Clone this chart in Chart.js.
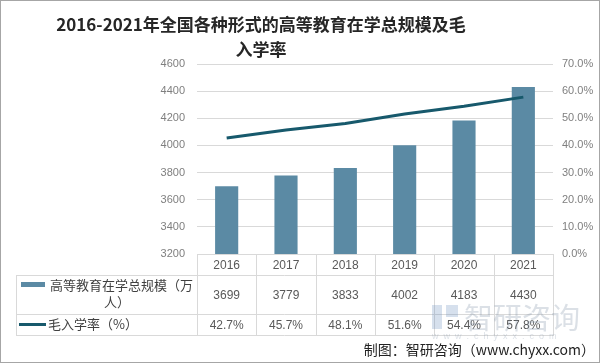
<!DOCTYPE html>
<html><head><meta charset="utf-8">
<script src="https://cdn.jsdelivr.net/npm/chart.js@4/dist/chart.umd.min.js"></script>
<style>html,body{margin:0;padding:0;background:#fff}#wrap{width:600px;height:363px;position:relative}</style>
</head><body><div id="wrap"><canvas id="c" width="600" height="363"></canvas></div>
<script>
const categories = ['2016','2017','2018','2019','2020','2021'];
const enrollment = [3699, 3779, 3833, 4002, 4183, 4430];
const grossRate = [42.7, 45.7, 48.1, 51.6, 54.4, 57.8];
const titleLines = ['2016-2021年全国各种形式的高等教育在学总规模及毛', '入学率'];
const seriesNames = ['高等教育在学总规模（万', '人）', '毛入学率（%）'];
const footer = '制图：智研咨询（www.chyxx.com）';

const BAR = '#5b8aa4', LINE = '#17596c', GRID = '#d9d9d9', TXT = '#595959';
const FONT = '"Liberation Sans", "Noto Sans CJK SC", sans-serif';
const CJK = '"Noto Sans CJK SC", sans-serif';

const tablePlugin = {
  id: 'tbl',
  afterDraw(chart) {
    const ctx = chart.ctx, ca = chart.chartArea, xs = chart.scales.x;
    const step = (ca.right - ca.left) / categories.length;
    const r0 = ca.bottom, r1 = 275, r2 = 314, r3 = 335, L = 16;
    ctx.save();
    ctx.strokeStyle = GRID; ctx.lineWidth = 1;
    const hl = (x1, x2, y) => { ctx.beginPath(); ctx.moveTo(x1, y + 0.5); ctx.lineTo(x2, y + 0.5); ctx.stroke(); };
    const vl = (x, y1, y2) => { ctx.beginPath(); ctx.moveTo(Math.round(x) + 0.5, y1); ctx.lineTo(Math.round(x) + 0.5, y2); ctx.stroke(); };
    hl(ca.left, ca.right, r0);
    hl(L, ca.right, r1); hl(L, ca.right, r2); hl(L, ca.right, r3);
    vl(L, r1, r3 + 1);
    for (let i = 0; i <= categories.length; i++) vl(ca.left + i * step, r0, r3 + 1);
    ctx.fillStyle = TXT; ctx.textAlign = 'center'; ctx.textBaseline = 'middle';
    ctx.font = '12px ' + FONT;
    categories.forEach((c, i) => {
      const x = xs.getPixelForValue(i);
      ctx.fillText(c, x, (r0 + r1) / 2 + 1);
      ctx.fillText(String(enrollment[i]), x, (r1 + r2) / 2 + 1);
      ctx.fillText(grossRate[i].toFixed(1) + '%', x, (r2 + r3) / 2 + 1);
    });
    // legend keys
    ctx.fillStyle = BAR; ctx.fillRect(21, 282, 24, 5);
    ctx.strokeStyle = LINE; ctx.lineWidth = 3;
    ctx.beginPath(); ctx.moveTo(19, 324.5); ctx.lineTo(46, 324.5); ctx.stroke();
    ctx.fillStyle = '#404040'; ctx.font = '13px ' + CJK; ctx.textAlign = 'left';
    ctx.fillText(seriesNames[0], 50, 285);
    ctx.textAlign = 'center'; ctx.fillText(seriesNames[1], 117, 302);
    ctx.textAlign = 'left'; ctx.fillText(seriesNames[2], 48, 324);
    // watermark
    ctx.globalAlpha = 0.28; ctx.fillStyle = '#7f8fa6';
    ctx.font = '29px ' + CJK; ctx.fillText('智研咨询', 464, 318);
    ctx.font = '9px ' + FONT; ctx.fillText('w  w  w  .  c  h  y  x  x  .  c  o  m', 432, 337);
    ctx.fillStyle = '#6d8fc0'; ctx.fillRect(432, 305, 10, 24); ctx.fillRect(446, 305, 12, 12);
    ctx.globalAlpha = 1;
    // footer
    ctx.fillStyle = '#222'; ctx.font = '14px ' + CJK; ctx.textAlign = 'right';
    ctx.fillText(footer, 595, 350);
    // title
    ctx.fillStyle = '#262626'; ctx.font = 'bold 17px ' + CJK; ctx.textAlign = 'center';
    ctx.fillText(titleLines[0], 261, 25);
    ctx.fillText(titleLines[1], 261, 50);
    // border
    ctx.strokeStyle = '#a6a6a6'; ctx.lineWidth = 1; ctx.strokeRect(0.5, 0.5, 599, 362);
    ctx.restore();
  }
};

new Chart(document.getElementById('c'), {
  data: {
    labels: categories,
    datasets: [
      { type: 'line', label: seriesNames[2], data: grossRate, yAxisID: 'y1', borderColor: LINE, borderWidth: 3, pointRadius: 0, tension: 0, order: 0 },
      { type: 'bar', label: seriesNames[0] + seriesNames[1], data: enrollment, yAxisID: 'y', backgroundColor: BAR, categoryPercentage: 1, barPercentage: 0.39, order: 1 }
    ]
  },
  options: {
    responsive: false, animation: false,
    layout: { padding: { left: 0, right: 0, top: 64, bottom: 109 } },
    plugins: { legend: { display: false }, title: { display: false }, tooltip: { enabled: false } },
    scales: {
      x: { display: false },
      y: {
        position: 'left', min: 3200, max: 4600,
        ticks: { stepSize: 200, color: '#7f7f7f', font: { size: 11, family: FONT }, padding: 12, callback: v => String(v) },
        grid: { color: GRID, drawTicks: false }, border: { display: false },
        afterFit: s => { s.width = 197; }
      },
      y1: {
        position: 'right', min: 0, max: 70,
        ticks: { stepSize: 10, color: '#7f7f7f', font: { size: 11, family: FONT }, padding: 9, callback: v => v.toFixed(1) + '%' },
        grid: { display: false, drawTicks: false }, border: { display: false },
        afterFit: s => { s.width = 47; }
      }
    }
  },
  plugins: [tablePlugin]
});
</script></body></html>
